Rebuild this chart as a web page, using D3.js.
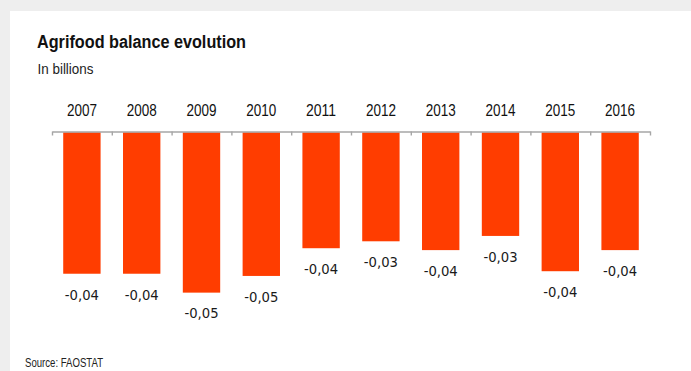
<!DOCTYPE html>
<html><head><meta charset="utf-8">
<script src="https://cdn.jsdelivr.net/npm/d3@7"></script>
<style>
html,body{margin:0;padding:0;background:#eeeeee;}
svg{display:block;}
</style></head>
<body>
<script>
const years = ["2007","2008","2009","2010","2011","2012","2013","2014","2015","2016"];
const balance = [-0.0449,-0.0449,-0.0509,-0.0456,-0.0368,-0.0346,-0.0374,-0.0329,-0.0441,-0.0374];
const titleText = "Agrifood balance evolution";
const subtitleText = "In billions";
const sourceText = "Source: FAOSTAT";

const W = 691, H = 371;
const svg = d3.select("body").append("svg").attr("width", W).attr("height", H);

// card
svg.append("rect").attr("x",0).attr("y",0).attr("width",W).attr("height",H).attr("fill","#eeeeee");
svg.append("rect").attr("x",10).attr("y",11).attr("width",W-10).attr("height",H-11).attr("fill","#ffffff");

svg.append("text").attr("x",37).attr("y",47.5)
  .attr("font-family","Liberation Sans, Arial, sans-serif").attr("font-weight","bold")
  .attr("font-size",17.5).attr("fill","#111")
  .attr("textLength",209).attr("lengthAdjust","spacingAndGlyphs")
  .text(titleText);
svg.append("text").attr("x",37.5).attr("y",73.7)
  .attr("font-family","Liberation Sans, Arial, sans-serif")
  .attr("font-size",14).attr("fill","#222")
  .attr("textLength",56).attr("lengthAdjust","spacingAndGlyphs")
  .text(subtitleText);

const x0 = 52, x1 = 650, axisY = 131.5;
const x = d3.scaleBand().domain(years).range([x0,x1]).paddingInner(0.375).paddingOuter(0.1875);
const xb = d3.scaleLinear().domain([0, years.length]).range([x0,x1]);
const y = d3.scaleLinear().domain([0,-0.06]).range([132.3, 132.3 + 0.06*3150]);

// bars
svg.append("g").selectAll("rect").data(years).join("rect")
  .attr("x", d => x(d))
  .attr("width", x.bandwidth())
  .attr("y", (d,i) => y(0))
  .attr("height", (d,i) => y(balance[i]) - y(0))
  .attr("fill","#ff3d00");

// axis with boundary ticks
const axis = svg.append("g").attr("transform",`translate(0,${axisY})`)
  .call(d3.axisBottom(xb).tickValues(d3.range(years.length+1)).tickFormat("").tickSizeInner(4).tickSizeOuter(0));
axis.select(".domain").attr("stroke","#a6a6a6").attr("stroke-width",1.6);
axis.selectAll(".tick line").attr("stroke","#a6a6a6").attr("stroke-width",1.4);

// year labels
svg.append("g").selectAll("text").data(years).join("text")
  .attr("x", d => x(d) + x.bandwidth()/2)
  .attr("y", 116.4)
  .attr("text-anchor","middle")
  .attr("font-family","Liberation Sans, Arial, sans-serif")
  .attr("font-size",16.8).attr("fill","#111")
  .attr("textLength",30).attr("lengthAdjust","spacingAndGlyphs")
  .text(d => d);

// value labels
const fmt = v => d3.format(".2f")(v).replace("−","-").replace(".",",");
svg.append("g").selectAll("text").data(years).join("text")
  .attr("x", d => x(d) + x.bandwidth()/2)
  .attr("y", (d,i) => y(balance[i]) + 25.8)
  .attr("text-anchor","middle")
  .attr("font-family","DejaVu Sans, sans-serif")
  .attr("font-size",13.2).attr("fill","#1a1a1a")
  .text((d,i) => fmt(balance[i]));

svg.append("text").attr("x",25).attr("y",367)
  .attr("font-family","Liberation Sans, Arial, sans-serif")
  .attr("font-size",12.8).attr("fill","#222")
  .attr("textLength",78).attr("lengthAdjust","spacingAndGlyphs")
  .text(sourceText);
</script>
</body></html>
